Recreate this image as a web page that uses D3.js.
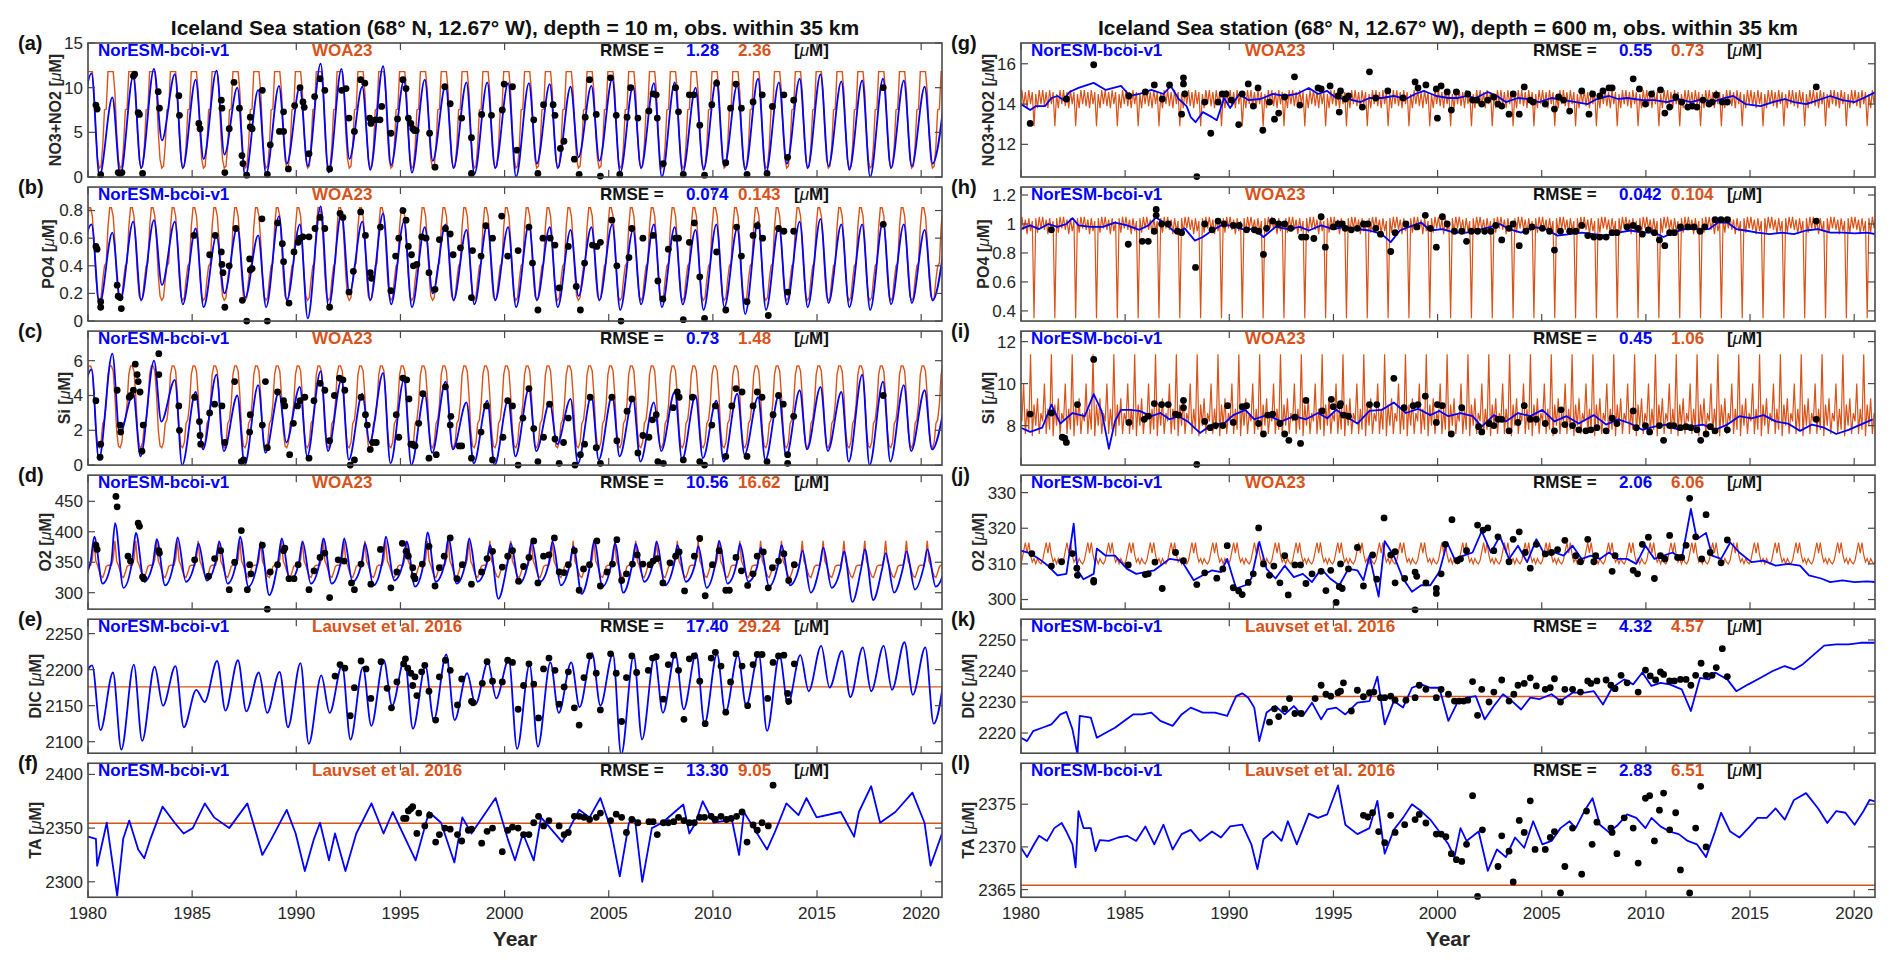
<!DOCTYPE html>
<html>
<head>
<meta charset="utf-8">
<script src="https://cdn.jsdelivr.net/npm/d3@7"></script>
<style>
  body { margin: 0; background: #fff; }
  text { font-family: "Liberation Sans", Arial, Helvetica, sans-serif; }
</style>
</head>
<body>
<svg id="fig" width="1892" height="966"></svg>
<script>
// time axis
var T0 = 1980;
var yearRange = [1980, 2021];
var xTickYears = [1980, 1985, 1990, 1995, 2000, 2005, 2010, 2015, 2020];
var titles = ["Iceland Sea station (68\u00b0 N, 12.67\u00b0 W), depth = 10 m, obs. within 35 km",
              "Iceland Sea station (68\u00b0 N, 12.67\u00b0 W), depth = 600 m, obs. within 35 km"];
var panelLetters = ["a", "b", "c", "d", "e", "f", "g", "h", "i", "j", "k", "l"];
var varNames = ["NO3+NO2", "PO4", "Si", "O2", "DIC", "TA", "NO3+NO2", "PO4", "Si", "O2", "DIC", "TA"];
var refNames = ["WOA23", "WOA23", "WOA23", "WOA23", "Lauvset et al. 2016", "Lauvset et al. 2016",
                "WOA23", "WOA23", "WOA23", "WOA23", "Lauvset et al. 2016", "Lauvset et al. 2016"];
var rmseModel = ["1.28", "0.074", "0.73", "10.56", "17.40", "13.30", "0.55", "0.042", "0.45", "2.06", "4.32", "2.83"];
var rmseRef   = ["2.36", "0.143", "1.48", "16.62", "29.24", "9.05", "0.73", "0.104", "1.06", "6.06", "4.57", "6.51"];
var yDomains = [[0, 15], [0, 0.97], [0, 7.7], [273, 493], [2084, 2270], [2285.6, 2410.4],
                [10.38, 17.03], [0.33, 1.255], [6.12, 12.5], [297.3, 334.9], [2213.5, 2256.7], [2364.1, 2379.8]];
var yTickVals = [[0, 5, 10, 15], [0, 0.2, 0.4, 0.6, 0.8], [0, 2, 4, 6], [300, 350, 400, 450],
                 [2100, 2150, 2200, 2250], [2300, 2350, 2400], [12, 14, 16], [0.4, 0.6, 0.8, 1, 1.2],
                 [8, 10, 12], [300, 310, 320, 330], [2220, 2230, 2240, 2250], [2365, 2370, 2375]];

// ---- NorESM surface: yearly winter maxima (1980..2021) and summer minima (1979..2020)
var aPeak = [11.6, 8.9, 11.25, 12.1, 11.5, 10.9, 11.9, 10.0, 9.75, 10.2, 10.1, 12.7, 12.1, 10.1, 12.4, 10.8, 10.9, 10.3, 10.6, 10.6, 10.5, 10.5, 10.4, 10.1, 10.2, 11.0, 10.2, 10.5, 10.6, 10.0, 10.9, 10.3, 11.0, 10.6, 11.0, 11.5, 10.7, 10.8, 11.0, 10.8, 10.1, 10.0];
var aTrough = [2.0, 0.1, 0.2, 1.0, 4.1, 1.0, 2.0, 2.5, 0.0, 0.3, 1.5, 1.2, 0.5, 2.0, 0.8, 1.3, 0.5, 1.8, 1.0, 0.3, 1.0, 0.0, 1.5, 1.0, 2.2, 1.8, 0.5, 1.0, 0.0, 0.5, 0.8, 1.2, 0.8, 0.5, 1.5, 1.0, 1.2, 0.8, 0.0, 1.0, 1.2, 1.5];
var bPeak = [0.70, 0.64, 0.72, 0.73, 0.72, 0.67, 0.62, 0.68, 0.62, 0.76, 0.70, 0.83, 0.78, 0.72, 0.78, 0.72, 0.68, 0.70, 0.66, 0.70, 0.68, 0.70, 0.68, 0.66, 0.68, 0.70, 0.66, 0.70, 0.68, 0.66, 0.70, 0.67, 0.72, 0.69, 0.72, 0.74, 0.70, 0.70, 0.72, 0.70, 0.66, 0.62];
var bTrough = [0.30, 0.12, 0.15, 0.15, 0.26, 0.12, 0.10, 0.20, 0.17, 0.10, 0.15, 0.02, 0.10, 0.20, 0.15, 0.12, 0.10, 0.20, 0.15, 0.12, 0.15, 0.10, 0.15, 0.10, 0.18, 0.15, 0.08, 0.12, 0.10, 0.12, 0.08, 0.10, 0.05, 0.08, 0.12, 0.10, 0.13, 0.10, 0.08, 0.12, 0.13, 0.15];
var cPeak = [5.5, 6.4, 4.1, 6.0, 4.9, 4.2, 5.2, 4.0, 4.6, 4.2, 4.5, 5.4, 4.9, 4.1, 5.3, 4.9, 4.1, 4.8, 3.6, 3.7, 3.7, 4.4, 3.6, 3.8, 4.0, 4.0, 3.8, 3.6, 4.2, 4.0, 3.7, 4.1, 3.9, 4.0, 4.3, 4.5, 4.2, 5.2, 4.8, 4.6, 4.3, 3.8];
var cTrough = [2.0, 0.3, 1.8, 0.5, 2.5, 0.0, 0.9, 0.8, 0.0, 0.7, 1.3, 0.5, 0.8, 0.3, 1.3, 0.1, 0.0, 0.7, 0.9, 0.1, 0.0, 0.5, 0.8, 1.2, 0.1, 0.3, 0.5, 0.2, 0.8, 0.3, 0.4, 0.2, 0.6, 0.3, 0.5, 0.9, 0.8, 0.2, 0.0, 0.2, 0.8, 0.9];
var dPeak = [392, 414, 398, 388, 391, 381, 384, 392, 381, 389, 384, 389, 389, 381, 392, 384, 399, 389, 389, 378, 381, 384, 384, 376, 385, 381, 380, 384, 378, 376, 385, 380, 374, 378, 369, 374, 368, 371, 365, 368, 371, 365];
var dTrough = [320, 315, 308, 318, 312, 318, 320, 315, 310, 296, 320, 315, 315, 318, 312, 320, 310, 318, 315, 318, 290, 315, 318, 312, 298, 310, 300, 318, 312, 318, 308, 315, 318, 310, 312, 300, 308, 285, 288, 300, 305, 310];
// late-winter O2 level just before the spring maximum (1980..2021)
var dShoulder = [350, 350, 352, 348, 350, 348, 350, 350, 346, 350, 348, 350, 348, 346, 350, 348, 350, 348, 348, 345, 346, 348, 348, 345, 348, 346, 345, 348, 345, 344, 348, 345, 342, 345, 340, 342, 338, 340, 338, 340, 342, 338];
var ePeak = [2206, 2196, 2207, 2204, 2205, 2172, 2212, 2213, 2196, 2197, 2209, 2192, 2206, 2203, 2213, 2215, 2205, 2221, 2195, 2210, 2214, 2207, 2210, 2210, 2223, 2222, 2220, 2219, 2222, 2223, 2222, 2220, 2222, 2220, 2220, 2233, 2226, 2231, 2233, 2238, 2231, 2210];
var eTrough = [2170, 2116, 2089, 2101, 2150, 2120, 2155, 2143, 2142, 2140, 2120, 2097, 2140, 2103, 2122, 2150, 2118, 2130, 2130, 2152, 2160, 2090, 2093, 2140, 2148, 2150, 2082, 2103, 2140, 2145, 2125, 2140, 2150, 2115, 2152, 2170, 2175, 2162, 2170, 2172, 2165, 2125];
// fraction of the year at which maxima / minima / shoulder sit
var peakPhase = [0.17, 0.17, 0.17, 0.30, 0.20];
var troughPhase = [0.55, 0.55, 0.52, 0.70, 0.60];
var shoulderPhase = 0.12;

// ---- NorESM, [years since 1980, value]
var fModel = [[0,2342],[0.38,2340],[0.44,2315],[0.9,2355],[1.4,2287],[1.69,2340],[1.98,2357],[2.41,2330],[2.7,2322],[3.0,2340],[3.58,2370],[4.16,2355],[4.59,2345],[5.03,2350],[5.61,2373],[6.05,2360],[6.78,2350],[7.65,2373],[8.08,2345],[8.37,2325],[8.81,2340],[9.54,2367],[9.97,2345],[10.41,2310],[10.85,2340],[11.14,2355],[11.57,2320],[11.86,2345],[12.36,2310],[12.88,2345],[13.61,2373],[14.19,2345],[14.63,2365],[15.73,2320],[16.37,2365],[16.95,2355],[17.59,2318],[17.97,2360],[18.41,2345],[19.57,2378],[20.15,2340],[20.5,2320],[20.88,2345],[21.4,2320],[21.75,2360],[22.77,2337],[23.58,2367],[24.08,2360],[24.6,2378],[25.09,2350],[25.53,2305],[25.97,2355],[26.26,2358],[26.61,2300],[27.07,2350],[27.57,2355],[28.58,2372],[28.87,2345],[29.17,2355],[29.51,2375],[30.04,2355],[30.91,2358],[31.26,2325],[31.49,2365],[32.6,2330],[32.95,2345],[33.53,2373],[34.11,2362],[34.49,2378],[34.98,2360],[36.14,2365],[36.78,2342],[37.01,2365],[37.6,2389],[38.03,2355],[38.76,2365],[39.58,2383],[40.16,2355],[40.45,2315],[41.0,2345]];
var gModel = [[0,14.0],[0.44,13.7],[0.73,13.9],[1.16,13.9],[1.46,14.3],[1.75,14.4],[2.04,14.2],[2.33,14.6],[2.76,14.8],[3.49,15.05],[4.07,14.7],[4.8,14.9],[5.24,14.4],[5.68,14.5],[6.26,14.7],[6.84,14.5],[7.19,14.9],[7.57,14.25],[7.95,13.9],[8.15,13.35],[8.38,13.1],[8.73,13.6],[9.17,13.35],[9.4,13.2],[9.75,14.3],[10.04,13.8],[10.48,14.5],[10.91,14.2],[11.5,14.25],[12.08,14.5],[12.66,14.4],[13.24,14.5],[13.82,14.8],[14.26,14.5],[14.7,14.65],[15.13,14.3],[15.72,14.25],[16.3,14.1],[16.73,14.3],[17.32,14.3],[17.9,14.4],[18.48,14.25],[18.92,14.5],[19.35,14.65],[19.94,14.4],[20.52,14.3],[20.95,14.3],[21.39,14.4],[21.83,14.3],[22.41,14.6],[22.85,14.4],[23.28,14.1],[23.86,14.3],[24.3,14.25],[24.88,14.1],[25.47,14.3],[26.05,14.2],[26.63,14.1],[27.21,14.0],[27.65,14.25],[28.23,14.4],[28.67,14.25],[29.1,14.3],[29.83,14.2],[30.41,14.2],[31.0,14.1],[31.58,14.25],[32.16,14.1],[32.74,14.25],[33.18,14.1],[33.76,14.3],[34.2,14.4],[34.78,14.0],[35.51,13.9],[36.09,14.1],[36.67,14.25],[37.11,14.1],[37.69,14.0],[38.27,14.2],[38.85,14.4],[39.44,14.2],[40.02,14.1],[40.45,14.3],[41.04,14.6]];
var hModel = [[0,0.965],[0.44,0.99],[0.87,0.965],[1.31,1.0],[1.75,0.98],[2.18,1.0],[2.47,1.04],[2.76,0.99],[3.35,0.98],[3.93,0.98],[4.51,1.01],[5.09,0.99],[5.68,0.96],[6.11,0.99],[6.49,1.045],[6.84,1.01],[7.42,0.94],[7.86,0.97],[8.35,0.885],[8.73,0.91],[9.17,0.955],[9.6,0.99],[10.04,0.99],[10.62,0.965],[11.2,0.965],[11.64,0.91],[12.22,0.98],[12.81,0.965],[13.39,0.98],[13.82,0.955],[14.41,0.99],[14.99,0.965],[15.57,0.98],[16.15,0.965],[16.73,0.955],[17.32,0.93],[17.75,0.875],[18.19,0.955],[18.63,0.98],[19.21,1.01],[19.65,0.955],[20.23,0.965],[20.81,0.94],[21.39,0.94],[21.97,0.96],[22.56,0.98],[22.99,1.0],[23.43,0.965],[24.01,0.94],[24.59,0.98],[25.17,0.965],[25.76,0.92],[26.34,0.93],[26.92,0.94],[27.5,0.93],[28.09,0.92],[28.67,0.94],[29.25,0.955],[29.83,0.94],[30.41,0.94],[30.85,0.91],[31.29,0.94],[31.87,0.965],[32.45,0.965],[33.03,0.965],[33.47,1.01],[33.91,1.01],[34.34,0.965],[34.78,0.955],[35.36,0.94],[35.94,0.93],[36.53,0.94],[37.11,0.93],[37.69,0.955],[38.27,0.965],[38.85,0.94],[39.44,0.94],[40.02,0.935],[40.6,0.94],[41.04,0.93]];
var iModel = [[0,7.9],[0.44,7.7],[1.02,7.9],[1.46,9.0],[1.89,8.1],[2.47,8.6],[3.06,8.45],[3.49,9.5],[3.87,8.7],[4.22,6.9],[4.51,8.2],[4.8,8.75],[5.24,8.75],[5.68,8.7],[6.26,8.45],[6.69,8.6],[7.13,8.3],[7.57,8.45],[8.0,8.2],[8.59,7.65],[9.17,8.05],[9.75,8.1],[10.19,8.5],[10.77,8.75],[11.2,8.3],[11.79,8.5],[12.51,8.2],[13.1,8.45],[13.68,8.3],[14.26,8.6],[14.7,8.35],[15.13,8.75],[15.57,8.45],[16.15,8.1],[16.73,8.7],[17.32,8.75],[17.9,9.1],[18.48,8.6],[19.06,8.8],[19.65,8.5],[20.08,8.7],[20.52,8.45],[21.1,8.6],[21.68,8.45],[22.12,7.95],[22.7,8.5],[23.28,8.2],[23.86,8.6],[24.45,8.45],[25.03,8.75],[25.61,8.2],[26.19,8.45],[26.78,8.1],[27.5,8.5],[28.09,8.05],[28.67,8.3],[29.25,8.1],[29.83,7.8],[30.41,7.95],[31.0,8.05],[31.58,7.8],[32.16,7.95],[32.74,8.05],[33.32,7.8],[33.91,8.05],[34.49,8.45],[35.07,8.35],[35.65,8.5],[36.23,8.2],[36.82,8.1],[37.4,7.75],[37.98,8.05],[38.56,7.9],[39.14,7.6],[39.73,7.8],[40.31,8.05],[40.89,8.3]];
var jModel = [[0,313.7],[0.44,313],[0.87,311.4],[1.31,309.4],[1.75,306.8],[2.18,307.2],[2.53,321.3],[2.71,308.2],[3.0,305.7],[3.49,307.2],[3.64,314.3],[4.07,312.3],[4.51,312.3],[5.09,308.6],[5.53,307.2],[5.97,307.7],[6.4,308.2],[6.69,309.5],[7.13,311.4],[7.71,310.9],[8.29,305.4],[8.73,306.8],[9.17,308.2],[9.6,307.7],[9.9,311.4],[10.33,303.1],[10.77,304],[11.06,305.9],[11.44,316.2],[11.79,308.6],[12.22,305.9],[12.66,309.5],[13.1,306.3],[13.53,307.2],[13.97,304.9],[14.41,308.6],[14.84,305.9],[15.28,304.0],[15.72,308.6],[16.15,308.2],[16.44,305.4],[16.73,312.3],[17.17,300.8],[17.46,316.4],[17.9,312.3],[18.34,305.9],[18.77,302.2],[19.21,304],[19.65,304],[20.08,307.7],[20.46,316],[20.81,311.4],[21.25,312.3],[21.68,313.2],[22.12,319.2],[22.56,313.2],[22.99,317.8],[23.43,311.4],[23.86,315.1],[24.3,310.5],[24.74,316.9],[25.17,312.3],[25.61,313.2],[26.05,312.3],[26.48,315.1],[26.92,311.4],[27.36,312.3],[27.79,311.4],[28.23,313.2],[28.67,311.4],[29.1,311.4],[29.54,310],[29.98,315.1],[30.41,311.4],[30.85,312.3],[31.29,313.2],[31.72,311.4],[32.16,325.4],[32.45,316.9],[32.89,318.7],[33.18,312.3],[33.61,311.4],[34.05,316],[34.49,313.2],[35.07,310.5],[35.65,310.9],[36.23,309.5],[36.82,310],[37.4,309.5],[37.83,306.8],[38.42,305.9],[38.85,304.9],[39.44,305.4],[40.02,304.9],[40.6,305.1],[41.04,304.9]];
var kModel = [[0,2218.5],[0.29,2217.4],[0.58,2220.6],[1.02,2221.7],[1.46,2222.8],[1.89,2226],[2.18,2226.8],[2.47,2221.2],[2.71,2213.1],[2.82,2225.5],[3.35,2225],[3.64,2218.5],[4.07,2220.1],[4.51,2221.7],[4.95,2223.9],[5.38,2226],[5.82,2226],[6.26,2226.6],[6.69,2223.9],[7.28,2222.3],[7.71,2226],[8.15,2228.2],[8.73,2226.6],[9.31,2226.6],[9.9,2225.5],[10.33,2231.9],[10.62,2232.8],[10.91,2231.4],[11.2,2228.2],[11.44,2217.4],[11.79,2226.6],[12.22,2228.7],[12.66,2226],[13.1,2228.7],[13.53,2225.5],[13.97,2229.8],[14.41,2224.4],[14.7,2227.6],[15.13,2228.2],[15.57,2226],[16.15,2229.8],[16.73,2230.3],[17.11,2238.2],[17.46,2222.8],[17.9,2230.3],[18.34,2228.2],[18.77,2234.6],[19.21,2235.7],[19.65,2234.6],[20.08,2234.6],[20.52,2223.9],[20.95,2229.8],[21.39,2231.4],[21.83,2231.9],[22.26,2224.4],[22.7,2228.7],[23.14,2232.5],[23.57,2230.3],[24.01,2227.6],[24.45,2231.4],[24.88,2230.9],[25.47,2232.5],[25.9,2230.3],[26.48,2233],[27.07,2233],[27.5,2233.5],[27.94,2229.2],[28.38,2234.6],[28.96,2237.3],[29.39,2235.7],[29.83,2239.5],[30.27,2235.2],[30.7,2236.2],[31.14,2235.7],[31.72,2234.1],[32.16,2227.1],[32.6,2237.8],[33.03,2237.3],[33.32,2239.5],[33.91,2237.3],[34.34,2233.5],[34.92,2235.7],[35.51,2237.8],[36.09,2240],[36.67,2241.6],[37.11,2240.5],[37.54,2242.2],[37.98,2244.8],[38.56,2248.2],[39.14,2248.6],[39.73,2248.6],[40.31,2249.1],[41.04,2249.1]];
var lModel = [[0,2369.9],[0.29,2368.8],[0.58,2370.1],[0.87,2371.3],[1.25,2370.7],[1.6,2372.2],[1.95,2372.8],[2.18,2371.8],[2.47,2370.3],[2.62,2367.6],[2.76,2374.2],[3.0,2372.2],[3.35,2372.2],[3.58,2369.5],[3.78,2370.8],[4.22,2370.7],[4.66,2371.1],[5.09,2371.3],[5.53,2370.7],[5.97,2372.4],[6.4,2370.3],[6.84,2372.6],[7.28,2369.7],[7.71,2371.5],[8.15,2372],[8.59,2370.7],[9.17,2371.8],[9.6,2371.1],[10.04,2372.4],[10.62,2372.6],[11.06,2370.3],[11.35,2367.4],[11.64,2370.9],[12.08,2371.8],[12.51,2370.7],[12.81,2373],[13.24,2370.3],[13.82,2373.9],[14.26,2373.4],[14.7,2373.8],[15.22,2377.2],[15.57,2372.6],[16.15,2371.5],[16.73,2372.2],[17.11,2375.4],[17.46,2369.2],[17.9,2372],[18.34,2373.4],[18.77,2375],[19.21,2374.2],[19.65,2373.2],[20.08,2371.8],[20.52,2370.3],[20.81,2368.8],[21.1,2372.2],[21.39,2370.7],[21.97,2371.8],[22.41,2367.2],[22.85,2369.7],[23.28,2368.8],[23.72,2371.1],[24.16,2369.9],[24.59,2373],[25.03,2370.3],[25.47,2370.7],[25.9,2372.2],[26.34,2373],[26.63,2372.2],[27.07,2374.3],[27.44,2375.7],[27.79,2372.6],[28.23,2371.7],[28.67,2372.6],[29.1,2373.8],[29.54,2373.4],[29.98,2372.2],[30.27,2373.4],[30.7,2372.4],[31.14,2371.8],[31.58,2371.5],[32.01,2370.7],[32.45,2370.3],[32.89,2368.8],[33.32,2371.8],[33.61,2374],[34.05,2371.8],[34.49,2371.1],[34.92,2372.2],[35.36,2373.4],[35.8,2373.4],[36.23,2374.5],[36.67,2373.2],[37.11,2375.5],[37.69,2376.3],[38.27,2374.5],[38.71,2372.8],[39.14,2374.2],[39.58,2374],[40.02,2372.6],[40.45,2374.2],[40.74,2375.5],[41.04,2375.3]];

// ---- WOA23 monthly climatology (Jan..Dec)
var aWoa = [11.8, 11.8, 11.8, 9.5, 5.0, 2.0, 1.0, 1.2, 3.5, 7.5, 7.6, 11.8];
var bWoa = [0.82, 0.82, 0.76, 0.58, 0.33, 0.18, 0.15, 0.17, 0.30, 0.40, 0.42, 0.68];
var cWoa = [5.7, 5.7, 5.4, 4.0, 2.0, 1.1, 1.0, 1.3, 2.4, 2.6, 3.5, 5.2];
var dWoa = [345, 345, 355, 385, 352, 345, 335, 327, 325, 333, 343, 345];
var gWoa = [14.7, 13.9, 14.6, 13.8, 14.7, 14.0, 14.6, 12.9, 14.5, 13.8, 14.7, 14.0];
var hWoa = [1.05, 0.96, 1.03, 0.93, 1.04, 0.95, 1.02, 0.35, 1.04, 0.94, 1.05, 0.97];
var iWoa = [8.2, 10.0, 7.6, 8.8, 7.8, 11.4, 7.5, 9.0, 8.0, 9.3, 7.6, 8.6];
var jWoa = [311, 313.5, 316, 313, 316, 312.5, 310.5, 311.5, 310, 311.5, 310.5, 310];
// ---- Lauvset et al. 2016 climatological value
var eLauvset = 2176, fLauvset = 2354.5, kLauvset = 2231.8, lLauvset = 2365.5;

// ---- observations, [years since 1980, value]
var aObs = [[0.38,8.05],[0.44,7.6],[0.61,0.26],[1.45,0.5],[1.54,0.4],[1.63,0.5],[2.18,11.3],[2.24,11.5],[2.41,7.2],[2.47,7.0],[2.62,0.4],[3.37,9.55],[3.43,7.7],[4.36,9.1],[4.39,6.9],[5.32,6.0],[5.38,5.4],[6.4,8.6],[6.43,7.7],[6.57,0.5],[6.78,5.4],[7.01,10.6],[7.27,7.7],[7.39,2.4],[7.44,1.5],[7.62,0.2],[7.79,6.7],[7.79,5.6],[7.88,5.4],[8.37,9.7],[8.61,0.3],[8.75,3.6],[9.19,5.1],[9.39,5.1],[9.39,7.3],[9.62,0.9],[9.92,8.0],[10.18,10.0],[10.32,8.4],[10.38,7.8],[10.61,2.6],[10.88,9.0],[11.14,11.0],[11.37,9.7],[11.6,0.9],[12.18,9.7],[12.39,9.9],[12.53,6.6],[12.79,5.1],[13.09,10.9],[13.29,10.5],[13.52,6.6],[13.58,6.0],[13.81,6.4],[14.02,6.4],[14.1,7.9],[14.54,4.9],[14.86,6.5],[15.12,10.9],[15.27,9.9],[15.38,6.6],[15.5,6.0],[15.59,5.4],[15.67,5.2],[15.76,5.2],[16.4,4.9],[16.66,1.1],[17.13,10.1],[17.39,8.2],[17.94,6.6],[18.41,0.4],[18.41,4.4],[18.9,7.0],[19.37,6.9],[19.89,7.5],[19.98,10.4],[20.38,10.1],[20.59,3.0],[21.4,6.4],[21.6,0.4],[21.87,8.1],[22.33,8.1],[22.42,6.9],[22.68,3.2],[22.85,4.0],[23.35,2.0],[23.58,0.3],[23.87,6.7],[24.08,10.9],[24.4,7.0],[24.6,0.1],[25.09,11.1],[25.36,6.9],[25.53,0.3],[25.88,6.7],[26.05,10.0],[26.4,6.6],[26.93,7.4],[27.13,9.3],[27.28,9.2],[27.33,6.6],[27.62,1.5],[28.21,10.0],[28.35,7.3],[28.58,0.3],[28.87,9.2],[29.08,9.2],[29.37,5.8],[29.6,0.2],[29.95,8.1],[30.18,10.5],[30.62,1.6],[30.85,7.7],[31.11,10.4],[31.37,7.7],[31.64,0.3],[31.93,8.4],[32.37,9.2],[32.6,0.4],[32.86,7.9],[33.41,9.2],[33.59,2.2],[33.88,8.6],[38.18,10.0]];
var bObs = [[0.38,0.54],[0.44,0.52],[0.61,0.14],[0.61,0.10],[1.4,0.26],[1.45,0.18],[1.54,0.17],[1.6,0.09],[5.09,0.62],[6.11,0.62],[5.84,0.48],[6.4,0.5],[6.43,0.41],[6.48,0.35],[6.57,0.1],[6.78,0.4],[7.1,0.67],[7.41,0.15],[7.62,0.0],[7.76,0.45],[7.79,0.37],[7.88,0.38],[8.35,0.74],[8.61,0.0],[9.1,0.71],[9.33,0.56],[9.39,0.43],[9.65,0.13],[9.89,0.5],[10.09,0.57],[10.18,0.6],[10.32,0.61],[10.61,0.61],[10.9,0.67],[11.14,0.75],[11.37,0.67],[11.6,0.1],[12.1,0.78],[12.24,0.75],[12.53,0.21],[12.74,0.36],[13.09,0.79],[13.32,0.62],[13.55,0.35],[13.61,0.31],[14.04,0.68],[14.54,0.22],[14.77,0.47],[14.92,0.6],[15.12,0.8],[15.27,0.73],[15.38,0.54],[15.53,0.48],[15.62,0.4],[15.79,0.41],[16.02,0.61],[16.23,0.6],[16.37,0.35],[16.66,0.23],[16.87,0.59],[17.16,0.67],[17.39,0.63],[17.53,0.48],[17.88,0.53],[18.41,0.17],[18.46,0.51],[18.87,0.47],[19.1,0.69],[19.42,0.6],[19.86,0.76],[20.15,0.47],[20.65,0.51],[21.17,0.68],[21.34,0.42],[21.6,0.08],[21.84,0.6],[22.19,0.6],[22.42,0.55],[22.62,0.24],[23.06,0.54],[23.44,0.25],[23.64,0.08],[23.84,0.42],[24.22,0.55],[24.43,0.54],[24.6,0.57],[25.15,0.73],[25.39,0.4],[25.59,0.0],[25.97,0.46],[26.11,0.67],[26.64,0.6],[27.13,0.62],[27.36,0.29],[27.6,0.16],[27.86,0.52],[28.21,0.6],[28.35,0.6],[28.58,0.01],[28.87,0.57],[29.11,0.71],[29.37,0.32],[29.6,0.02],[30.18,0.5],[30.62,0.08],[31.14,0.68],[31.37,0.47],[31.64,0.14],[31.93,0.62],[32.13,0.69],[32.39,0.6],[32.66,0.04],[33.15,0.67],[33.41,0.65],[33.59,0.21],[33.88,0.65],[38.18,0.7]];
var cObs = [[0.38,3.7],[0.58,0.45],[0.61,1.2],[1.4,4.3],[1.54,2.3],[1.57,1.9],[1.98,3.9],[2.06,4.0],[2.18,4.3],[2.27,5.8],[2.36,5.2],[2.41,4.8],[2.5,4.2],[2.59,0.8],[2.65,2.3],[3.4,6.4],[3.4,5.2],[4.36,3.4],[4.39,2.0],[5.12,3.9],[5.35,2.5],[5.38,1.7],[5.41,1.2],[5.84,3.0],[6.08,3.5],[6.43,3.4],[6.57,1.3],[7.04,4.8],[7.36,0.2],[7.47,0.3],[7.79,2.9],[7.76,1.9],[8.37,2.3],[8.52,4.8],[8.61,1.0],[9.1,4.2],[9.39,3.7],[9.45,3.4],[9.68,0.6],[9.86,2.4],[10.06,3.4],[10.18,3.7],[10.41,3.9],[10.61,0.4],[10.85,3.7],[11.14,4.7],[11.37,4.3],[11.6,1.4],[11.83,4.0],[12.07,5.0],[12.24,4.9],[12.33,4.3],[12.59,0.0],[12.79,0.3],[13.11,3.9],[13.32,2.9],[13.41,2.3],[13.55,0.9],[13.67,1.3],[13.84,1.3],[14.8,2.9],[14.92,1.6],[15.12,5.0],[15.3,4.9],[15.41,3.8],[15.5,1.2],[15.59,1.2],[15.7,1.1],[15.88,2.4],[16.08,4.1],[16.37,0.4],[16.72,0.6],[17.16,4.5],[17.39,2.3],[17.42,2.8],[17.82,1.1],[17.94,1.1],[18.41,0.4],[18.87,1.9],[19.13,3.4],[19.42,0.3],[19.92,1.6],[20.15,3.7],[20.38,3.4],[20.65,0.0],[20.88,2.7],[21.17,4.4],[21.4,2.1],[21.6,0.2],[21.87,1.6],[22.16,3.5],[22.42,1.5],[22.62,0.1],[22.83,1.3],[23.06,2.7],[23.38,0.0],[23.64,0.6],[23.84,1.2],[24.11,3.9],[24.4,1.0],[24.6,0.1],[25.15,3.9],[25.39,1.4],[25.88,3.1],[26.11,3.8],[26.4,0.7],[26.64,1.7],[26.93,1.6],[27.1,2.6],[27.28,2.9],[27.36,0.2],[27.62,0.1],[28.09,3.3],[28.29,4.2],[28.38,3.9],[28.58,0.3],[29.02,3.9],[29.37,0.2],[29.6,0.0],[29.95,2.3],[30.12,3.4],[30.62,0.5],[30.91,3.4],[31.11,4.4],[31.4,4.2],[31.64,0.5],[31.93,3.4],[32.13,4.2],[32.36,3.9],[32.6,0.2],[32.89,2.9],[33.15,4.0],[33.38,3.5],[33.59,0.1],[33.59,0.6],[33.88,2.8],[38.18,4.0]];
var dObs = [[0.38,378],[0.44,371],[1.34,458],[1.4,441],[2.41,414],[2.47,409],[2.62,326],[2.68,323],[1.92,360],[2.04,352],[3.4,369],[3.43,365],[5.12,354],[5.79,327],[6.08,356],[6.37,369],[6.78,305],[7.04,350],[7.36,402],[7.65,305],[7.76,346],[7.82,331],[8.37,378],[8.61,273],[8.75,334],[9.1,346],[9.39,369],[9.45,373],[9.65,323],[9.89,323],[10.09,346],[10.61,305],[10.85,336],[11.14,358],[11.37,365],[11.6,292],[12.01,354],[12.3,352],[12.65,316],[12.79,305],[13.11,347],[13.58,314],[14.04,371],[14.54,308],[14.83,334],[15.09,381],[15.27,368],[15.38,360],[15.59,341],[15.64,327],[15.7,323],[16.05,347],[16.37,376],[16.66,311],[16.87,341],[17.1,360],[17.39,390],[17.71,323],[17.97,346],[18.41,314],[18.9,334],[19.16,356],[19.42,368],[19.89,342],[20.15,360],[20.38,369],[20.67,319],[20.91,343],[21.17,358],[21.4,385],[21.6,316],[21.87,360],[22.13,362],[22.39,390],[22.62,334],[22.86,333],[23.06,346],[23.35,369],[23.58,304],[23.79,339],[24.08,346],[24.43,385],[24.6,311],[24.92,334],[25.18,347],[25.39,387],[25.62,320],[25.85,331],[26.14,347],[26.37,362],[26.64,347],[26.98,346],[27.13,352],[27.33,356],[27.6,316],[27.94,349],[28.21,360],[28.38,367],[28.64,303],[29.11,360],[29.37,389],[29.63,295],[29.98,346],[30.3,369],[30.62,304],[30.79,304],[31.11,358],[31.37,336],[31.67,312],[31.93,331],[32.13,360],[32.42,367],[32.66,308],[32.86,341],[33.15,352],[33.41,364],[33.64,320],[33.91,346]];
var eObs = [[11.86,2191],[12.1,2207],[12.33,2202],[12.59,2136],[12.79,2175],[13.11,2212],[13.35,2201],[13.58,2160],[14.07,2211],[14.36,2174],[14.57,2147],[14.83,2183],[15.15,2208],[15.24,2215],[15.35,2202],[15.5,2195],[15.59,2178],[15.7,2190],[15.79,2164],[16.02,2197],[16.17,2206],[16.37,2170],[16.69,2130],[16.87,2190],[17.16,2213],[17.39,2199],[17.74,2151],[17.94,2187],[18.41,2156],[18.49,2154],[18.93,2181],[19.16,2211],[19.42,2184],[19.89,2183],[20.15,2213],[20.38,2210],[20.65,2145],[20.91,2178],[21.17,2208],[21.4,2180],[21.63,2133],[21.87,2201],[22.13,2216],[22.42,2199],[22.62,2152],[22.86,2176],[23.06,2197],[23.35,2147],[23.58,2123],[23.81,2189],[24.08,2219],[24.4,2195],[24.6,2144],[25.09,2222],[25.36,2195],[25.62,2128],[25.85,2189],[26.11,2219],[26.34,2196],[26.9,2199],[27.1,2216],[27.28,2218],[27.62,2159],[27.86,2207],[28.12,2220],[28.35,2199],[28.61,2131],[28.87,2215],[29.11,2219],[29.37,2184],[29.63,2125],[29.92,2216],[30.12,2224],[30.39,2205],[30.62,2141],[30.85,2183],[31.11,2222],[31.4,2205],[31.67,2150],[31.93,2207],[32.13,2221],[32.36,2221],[32.63,2160],[32.89,2210],[33.15,2219],[33.41,2220],[33.59,2167],[33.64,2156],[33.91,2208]];
var fObs = [[15.15,2359],[15.27,2359],[15.38,2366],[15.5,2368],[15.59,2370],[15.79,2345],[15.88,2364],[16.17,2352],[16.4,2362],[16.69,2337],[16.87,2344],[17.13,2350],[17.39,2349],[17.74,2344],[17.94,2338],[18.26,2348],[18.41,2349],[18.9,2336],[19.16,2347],[19.42,2350],[19.89,2328],[20.15,2348],[20.38,2351],[20.65,2350],[20.91,2344],[21.17,2344],[21.4,2355],[21.63,2361],[21.87,2352],[22.13,2357],[22.62,2352],[22.86,2344],[23.06,2346],[23.35,2361],[23.58,2361],[23.81,2360],[24.08,2358],[24.4,2360],[24.6,2364],[25.09,2357],[25.36,2363],[25.62,2360],[25.85,2346],[26.11,2358],[26.4,2355],[26.93,2356],[27.13,2356],[27.33,2344],[27.62,2355],[27.86,2355],[28.12,2356],[28.35,2360],[28.61,2357],[28.87,2355],[29.11,2355],[29.37,2360],[29.6,2360],[29.92,2361],[30.12,2358],[30.39,2361],[30.65,2358],[30.88,2359],[31.14,2361],[31.4,2365],[31.64,2337],[31.93,2353],[32.13,2348],[32.36,2355],[32.66,2352],[32.89,2390]];
var gObs = [[0.44,13.04],[2.18,14.25],[3.49,15.95],[5.18,14.4],[5.97,14.6],[6.4,14.95],[6.78,14.25],[7.13,14.95],[7.71,13.5],[7.8,15.3],[7.8,15.0],[7.86,14.5],[8.44,10.4],[8.82,14.1],[9.11,12.55],[9.46,14.1],[9.66,14.5],[9.84,14.5],[10.1,14.2],[10.45,12.98],[10.62,14.5],[10.91,15.0],[11.15,13.9],[11.38,14.8],[11.61,12.7],[11.93,14.1],[12.17,13.25],[12.37,13.55],[12.66,14.35],[13.13,15.35],[13.39,13.95],[14.26,14.8],[14.41,14.75],[14.84,14.9],[15.22,14.4],[15.28,13.6],[15.34,14.65],[15.57,14.25],[15.72,14.4],[16.39,13.85],[16.73,15.6],[17.03,14.3],[17.61,14.65],[18.34,14.3],[18.92,15.1],[19.06,14.8],[19.44,14.95],[19.94,14.75],[19.99,13.3],[20.17,14.9],[20.46,14.6],[20.66,13.7],[20.9,14.6],[21.45,14.5],[21.68,14.2],[21.89,14.2],[22.12,14.0],[22.41,14.2],[22.7,14.35],[22.9,14.0],[23.08,13.9],[23.43,13.5],[23.63,14.5],[23.92,13.5],[24.16,14.85],[24.45,14.2],[24.59,14.1],[25.17,14.0],[25.61,13.75],[25.81,14.35],[26.05,14.2],[26.34,13.65],[26.92,14.65],[27.27,13.5],[27.44,14.5],[27.79,14.4],[27.94,14.65],[28.23,14.8],[28.38,14.8],[29.39,15.25],[29.69,14.75],[29.98,14.0],[30.27,14.5],[30.7,14.7],[30.91,13.55],[31.14,13.85],[31.43,14.35],[31.72,14.1],[32.01,13.85],[32.22,13.9],[32.45,13.85],[32.74,14.2],[33.03,14.0],[33.18,14.1],[33.38,14.45],[33.67,14.1],[33.91,14.1],[38.18,14.85]];
var hObs = [[1.46,0.96],[5.15,0.86],[5.82,0.88],[6.11,0.88],[6.4,0.95],[6.49,1.1],[6.49,1.06],[6.75,1.0],[7.07,1.0],[7.51,0.95],[7.71,0.94],[8.38,0.7],[8.82,1.0],[9.17,0.96],[9.46,1.02],[9.75,1.0],[10.19,0.99],[10.48,0.99],[10.83,0.96],[11.2,0.96],[11.41,0.95],[11.64,0.79],[11.79,0.97],[12.08,1.02],[12.37,1.0],[12.66,1.0],[12.95,0.97],[13.47,0.91],[13.68,0.91],[14.06,0.9],[14.41,1.05],[14.61,0.84],[14.99,0.98],[15.22,1.0],[15.42,1.0],[15.57,0.97],[15.86,0.96],[16.15,0.97],[16.44,1.0],[16.65,1.0],[17.03,0.97],[17.26,0.93],[17.75,0.81],[17.96,0.94],[18.48,1.0],[19.0,0.98],[19.41,1.06],[19.65,0.97],[19.94,0.84],[20.23,1.05],[20.46,1.0],[20.81,0.95],[21.16,0.95],[21.39,0.88],[21.62,0.95],[21.92,0.95],[22.26,0.95],[22.56,0.95],[22.79,0.99],[23.08,0.89],[23.43,0.97],[23.63,1.0],[23.92,0.85],[24.24,0.95],[24.53,0.98],[25.03,0.97],[25.38,0.95],[25.61,0.82],[25.9,0.95],[26.34,0.95],[26.63,0.95],[26.92,0.99],[27.21,0.92],[27.5,0.91],[27.79,0.91],[28.09,0.91],[28.38,0.94],[28.61,0.94],[29.1,0.98],[29.39,0.99],[29.63,0.97],[29.83,0.93],[30.12,0.96],[30.41,0.94],[30.65,0.89],[30.91,0.85],[31.14,0.94],[31.37,0.94],[31.66,0.98],[32.01,0.98],[32.31,0.98],[32.6,0.95],[32.83,0.98],[33.32,1.03],[33.61,1.03],[33.91,1.03],[38.18,1.02]];
var iObs = [[0.44,8.55],[1.46,8.6],[1.98,7.45],[2.1,7.4],[2.18,7.2],[2.71,9.0],[3.49,11.15],[5.18,8.15],[5.91,8.3],[6.11,8.45],[6.4,9.05],[6.75,9.0],[7.07,9.0],[7.42,8.55],[7.57,8.5],[7.8,9.2],[7.8,8.85],[8.44,6.15],[8.82,8.2],[9.08,7.9],[9.34,8.0],[9.69,8.0],[9.92,8.95],[10.19,8.15],[10.62,8.9],[10.83,8.95],[11.41,8.1],[11.64,7.6],[11.85,8.5],[12.08,8.55],[12.43,8.1],[12.66,7.6],[12.86,7.3],[13.15,8.4],[13.42,7.15],[13.68,9.2],[14.46,8.7],[14.9,9.25],[14.99,8.9],[15.31,8.95],[15.34,9.05],[15.48,8.5],[15.72,8.45],[16.73,9.0],[17.08,9.0],[17.9,10.25],[18.39,8.85],[18.83,8.95],[19.06,9.0],[19.41,9.4],[19.94,8.15],[19.99,9.0],[20.23,8.95],[20.66,7.6],[21.16,8.85],[21.97,7.95],[22.12,7.7],[22.47,8.1],[22.7,8.0],[22.9,8.3],[23.08,8.3],[23.43,7.75],[23.86,8.15],[24.16,8.95],[24.45,8.3],[24.74,8.3],[25.17,8.1],[25.61,7.75],[25.93,8.75],[26.11,8.05],[26.48,8.0],[26.78,7.8],[27.12,7.75],[27.36,7.8],[27.65,7.9],[28.09,7.75],[28.38,8.35],[28.61,8.1],[29.39,8.7],[29.54,7.9],[29.98,8.0],[30.18,7.7],[30.65,8.0],[30.85,7.3],[31.14,8.0],[31.34,8.0],[31.66,7.9],[31.93,7.95],[32.16,7.9],[32.45,7.8],[32.63,7.3],[32.89,7.6],[33.09,7.95],[33.32,7.75],[33.91,7.8],[38.18,8.3]];
var jObs = [[0.52,312.9],[1.46,309.4],[1.95,310.6],[2.47,312.9],[2.68,308.8],[2.71,306.8],[3.49,305.4],[3.49,304.9],[5.15,309.7],[5.97,307],[6.11,307.2],[6.43,310.5],[6.78,303.1],[7.42,313.2],[7.8,310.9],[8.44,304.2],[8.82,307.5],[9.4,306],[9.69,308.6],[9.9,315.1],[10.19,303.3],[10.45,302.4],[10.62,301.4],[10.91,304.8],[11.15,307.2],[11.41,320.1],[11.64,310],[11.93,306.8],[12.14,309.4],[12.43,304.7],[12.66,312.3],[12.83,301.3],[13.15,309.7],[13.42,309.7],[13.68,304.5],[13.97,307.2],[14.41,307.9],[14.64,302.5],[14.87,308.2],[15.13,299.2],[15.28,303.6],[15.42,303.1],[15.34,310],[15.72,308.6],[16.15,314.6],[16.44,303.8],[16.88,312.5],[17.08,305.7],[17.43,322.9],[17.75,312.5],[17.96,313.4],[17.96,304.7],[18.42,305.9],[18.92,307.7],[19.0,306.5],[18.92,297.1],[19.44,304.7],[19.94,303.1],[19.94,301.7],[20.17,307.2],[20.37,315.5],[20.69,322.4],[20.95,310.9],[21.1,311.4],[21.39,313.7],[21.92,320.9],[22.18,319.5],[22.41,320.1],[22.7,313.7],[22.9,317.6],[23.43,310.6],[23.63,316.9],[23.92,319],[24.21,313.2],[24.45,308.8],[24.74,315.5],[25.17,312.8],[25.47,313.2],[25.76,314],[26.11,316.6],[26.63,312.3],[26.86,310.6],[27.21,316.9],[27.5,310.6],[27.59,312.3],[28.38,307.9],[28.52,312.3],[29.39,308.2],[29.6,307.2],[29.83,315.5],[30.12,317.5],[30.41,305.9],[30.7,312.3],[30.91,311.4],[31.14,318],[31.52,311.8],[31.72,311.8],[31.93,315.2],[32.1,328.4],[32.39,317.6],[32.68,311.4],[32.89,323.8],[33.09,313.2],[33.61,310.3],[33.91,316.7]];
var kObs = [[11.93,2223.5],[12.17,2227.8],[12.37,2225.3],[12.66,2227.8],[12.89,2231.1],[13.15,2226.3],[13.45,2226.3],[14.12,2231.1],[14.41,2235.4],[14.64,2232.5],[14.87,2231.9],[15.22,2233],[15.34,2233.5],[15.48,2236.2],[15.86,2227.1],[16.15,2233.8],[16.44,2231.7],[16.73,2233],[16.94,2233.2],[17.26,2231.4],[17.46,2231.4],[17.75,2231.9],[17.96,2230.6],[18.48,2230.6],[18.92,2231.4],[19.12,2235.4],[19.44,2234.1],[19.94,2231.4],[20.17,2234.1],[20.52,2232.5],[20.81,2230.3],[21.04,2230.3],[21.25,2230.3],[21.45,2230.6],[21.68,2236.6],[21.92,2225.7],[22.12,2234.1],[22.47,2230],[22.7,2233.2],[23.08,2237.1],[23.43,2230.3],[23.66,2232.5],[23.86,2235.4],[24.16,2236],[24.45,2237.8],[24.74,2235.2],[25.17,2234.1],[25.41,2234.6],[25.61,2237.5],[25.9,2230],[26.11,2234.1],[26.48,2234.1],[26.86,2233.2],[27.21,2236.8],[27.36,2236],[27.65,2236.8],[28.09,2237.1],[28.32,2235.4],[28.52,2234.3],[28.81,2238.6],[29.1,2236.2],[29.63,2233.2],[29.98,2240.3],[30.21,2238.4],[30.47,2237.1],[30.7,2239.7],[30.85,2238.9],[31.14,2236.8],[31.37,2236.8],[31.66,2237.3],[31.93,2237.3],[32.16,2235.4],[32.39,2238.6],[32.65,2242.5],[32.89,2238.6],[33.18,2238.6],[33.38,2241.1],[33.67,2247.2],[33.91,2238.2]];
var lObs = [[16.44,2373.7],[16.65,2373.5],[16.88,2374],[17.17,2371.8],[17.46,2370.5],[17.75,2373.7],[17.96,2371.7],[18.42,2372.6],[18.92,2373.2],[19.12,2373.8],[19.44,2372.8],[19.94,2371.5],[20.17,2371.5],[20.4,2371.2],[20.66,2369.2],[20.9,2368.5],[21.16,2368.3],[21.39,2370.3],[21.68,2376],[21.92,2364.2],[22.15,2372],[22.9,2367.7],[23.08,2371.3],[23.43,2369.5],[23.63,2365.9],[23.92,2373.1],[24.16,2371.7],[24.45,2375.4],[24.68,2369.7],[25.17,2369.7],[25.41,2371.1],[25.61,2371.8],[25.9,2364.6],[26.11,2367.7],[26.48,2372.2],[26.92,2366.8],[27.15,2374.2],[27.42,2370.3],[27.65,2372.9],[28.32,2372.2],[28.38,2371.7],[28.61,2369.2],[28.96,2373.4],[29.39,2372.2],[29.63,2368.1],[29.98,2375.7],[30.18,2376],[30.41,2370.7],[30.65,2374.3],[30.85,2376.3],[31.14,2372],[31.43,2374],[31.66,2367.3],[32.1,2364.6],[32.39,2372.2],[32.63,2377.1],[32.89,2370]];

// ---------- helpers to turn the arrays into line points ----------
function seasonal(peaks, troughs, k, shoulder) {
  var pts = [];
  troughs.forEach(function(v, i) { pts.push([T0 - 1 + i + troughPhase[k], v]); });
  peaks.forEach(function(v, i) { pts.push([T0 + i + peakPhase[k], v]); });
  if (shoulder) shoulder.forEach(function(v, i) { pts.push([T0 + i + shoulderPhase, v]); });
  return pts.sort(function(a, b) { return a[0] - b[0]; });
}
function sinceT0(arr) { return arr.map(function(d) { return [T0 + d[0], d[1]]; }); }
function climatology(months) {
  var pts = [];
  for (var yr = yearRange[0] - 1; yr <= yearRange[1]; yr++) {
    months.forEach(function(v, m) { pts.push([yr + (m + 0.5) / 12, v]); });
  }
  return pts;
}
function constant(v) { return [[yearRange[0], v], [yearRange[1], v]]; }

var modelSeries = [seasonal(aPeak, aTrough, 0), seasonal(bPeak, bTrough, 1), seasonal(cPeak, cTrough, 2),
                   seasonal(dPeak, dTrough, 3, dShoulder), seasonal(ePeak, eTrough, 4), sinceT0(fModel),
                   sinceT0(gModel), sinceT0(hModel), sinceT0(iModel), sinceT0(jModel), sinceT0(kModel), sinceT0(lModel)];
var refSeries = [climatology(aWoa), climatology(bWoa), climatology(cWoa), climatology(dWoa), constant(eLauvset), constant(fLauvset),
                 climatology(gWoa), climatology(hWoa), climatology(iWoa), climatology(jWoa), constant(kLauvset), constant(lLauvset)];
var obsSeries = [aObs, bObs, cObs, dObs, eObs, fObs, gObs, hObs, iObs, jObs, kObs, lObs].map(sinceT0);
var smoothModel = [true, true, true, true, true, false, false, false, false, false, false, false];

// ---------- layout ----------
var blue = "#0000ff", orange = "#d95319", axisCol = "#4a4a4a", textCol = "#262626";
var colLeft = [88, 1021], plotW = 854, plotH = 134, rowTop = 43, rowStep = 144.05;
var ylabOffset = [-33, -40, -24, -43, -53, -53, -33, -38, -33, -43, -53, -53];

var svg = d3.select("#fig");

// column titles and x labels
[0, 1].forEach(function(c) {
  svg.append("text")
    .attr("x", colLeft[c] + plotW / 2)
    .attr("y", 35)
    .attr("text-anchor", "middle")
    .attr("font-size", "21px")
    .attr("font-weight", "bold")
    .attr("fill", "#111")
    .text(titles[c]);
  svg.append("text")
    .attr("x", colLeft[c] + plotW / 2)
    .attr("y", 946)
    .attr("text-anchor", "middle")
    .attr("font-size", "21px")
    .attr("font-weight", "bold")
    .attr("fill", textCol)
    .text("Year");
});

var fmt = function(v) { return d3.format("~g")(v); };

panelLetters.forEach(function(letter, k) {
  var col = k < 6 ? 0 : 1, row = k % 6;
  var x0 = colLeft[col], y0 = rowTop + row * rowStep;

  var x = d3.scaleLinear().domain(yearRange).range([0, plotW]);
  var y = d3.scaleLinear().domain(yDomains[k]).range([plotH, 0]);

  var g = svg.append("g").attr("transform", "translate(" + x0 + "," + y0 + ")");

  g.append("clipPath").attr("id", "clip-" + letter)
    .append("rect").attr("width", plotW).attr("height", plotH);

  var plot = g.append("g").attr("clip-path", "url(#clip-" + letter + ")");

  var lineRef = d3.line().x(function(d) { return x(d[0]); }).y(function(d) { return y(d[1]); });
  var lineModel = d3.line()
    .x(function(d) { return x(d[0]); })
    .y(function(d) { return y(d[1]); })
    .curve(smoothModel[k] ? d3.curveMonotoneX : d3.curveLinear);

  // reference product first, model on top of it
  plot.append("path")
    .datum(refSeries[k])
    .attr("d", lineRef)
    .attr("fill", "none")
    .attr("stroke", orange)
    .attr("stroke-width", col === 1 && row < 4 ? 1.2 : 1.4);

  plot.append("path")
    .datum(modelSeries[k])
    .attr("d", lineModel)
    .attr("fill", "none")
    .attr("stroke", blue)
    .attr("stroke-width", 1.8)
    .attr("stroke-linejoin", "round");

  // observations (whole marker drawn when its centre is in range)
  var dom = yDomains[k];
  g.selectAll("circle.obs")
    .data(obsSeries[k].filter(function(d) { return d[1] >= dom[0] - 0.01 * (dom[1] - dom[0]); }))
    .enter().append("circle")
    .attr("class", "obs")
    .attr("cx", function(d) { return x(d[0]); })
    .attr("cy", function(d) { return y(d[1]); })
    .attr("r", 3.4)
    .attr("fill", "#000");

  // box
  g.append("rect")
    .attr("width", plotW).attr("height", plotH)
    .attr("fill", "none")
    .attr("stroke", axisCol)
    .attr("stroke-width", 1.6);

  // x ticks, inward, top and bottom
  xTickYears.forEach(function(yr) {
    var xx = x(yr);
    g.append("line").attr("x1", xx).attr("x2", xx).attr("y1", plotH).attr("y2", plotH - 7)
      .attr("stroke", axisCol).attr("stroke-width", 1.2);
    g.append("line").attr("x1", xx).attr("x2", xx).attr("y1", 0).attr("y2", 7)
      .attr("stroke", axisCol).attr("stroke-width", 1.2);
    if (row === 5) {
      g.append("text")
        .attr("x", xx).attr("y", plotH + 22)
        .attr("text-anchor", "middle")
        .attr("font-size", "17px")
        .attr("fill", textCol)
        .text(yr);
    }
  });

  // y ticks, inward, left and right
  yTickVals[k].forEach(function(v) {
    var yy = y(v);
    g.append("line").attr("x1", 0).attr("x2", 7).attr("y1", yy).attr("y2", yy)
      .attr("stroke", axisCol).attr("stroke-width", 1.2);
    g.append("line").attr("x1", plotW).attr("x2", plotW - 7).attr("y1", yy).attr("y2", yy)
      .attr("stroke", axisCol).attr("stroke-width", 1.2);
    g.append("text")
      .attr("x", -5).attr("y", yy)
      .attr("dy", "0.35em")
      .attr("text-anchor", "end")
      .attr("font-size", "17px")
      .attr("fill", textCol)
      .text(fmt(v));
  });

  // y label with italic mu
  var yl = g.append("text")
    .attr("transform", "translate(" + ylabOffset[k] + "," + (plotH / 2) + ") rotate(-90)")
    .attr("dy", "0.35em")
    .attr("text-anchor", "middle")
    .attr("font-size", "16px")
    .attr("font-weight", "bold")
    .attr("fill", textCol);
  yl.append("tspan").text(varNames[k] + " [");
  yl.append("tspan").attr("font-style", "italic").attr("font-weight", "normal").text("\u03bc");
  yl.append("tspan").text("M]");

  // panel letter
  g.append("text")
    .attr("x", -70).attr("y", 7)
    .attr("font-size", "20px")
    .attr("font-weight", "bold")
    .attr("fill", "#111")
    .text("(" + letter + ")");

  // in-panel legend
  var ty = 13;
  function label(dx, txt, color) {
    return g.append("text")
      .attr("x", dx).attr("y", ty)
      .attr("font-size", "17px")
      .attr("font-weight", "bold")
      .attr("fill", color)
      .text(txt);
  }
  label(10, "NorESM-bcoi-v1", blue);
  label(224, refNames[k], orange);
  label(512, "RMSE =", "#111");
  label(598, rmseModel[k], blue);
  label(650, rmseRef[k], orange);
  var unit = label(706, "[", "#111");
  unit.append("tspan").attr("font-style", "italic").attr("font-weight", "normal").text("\u03bc");
  unit.append("tspan").text("M]");
});
</script>
</body>
</html>
